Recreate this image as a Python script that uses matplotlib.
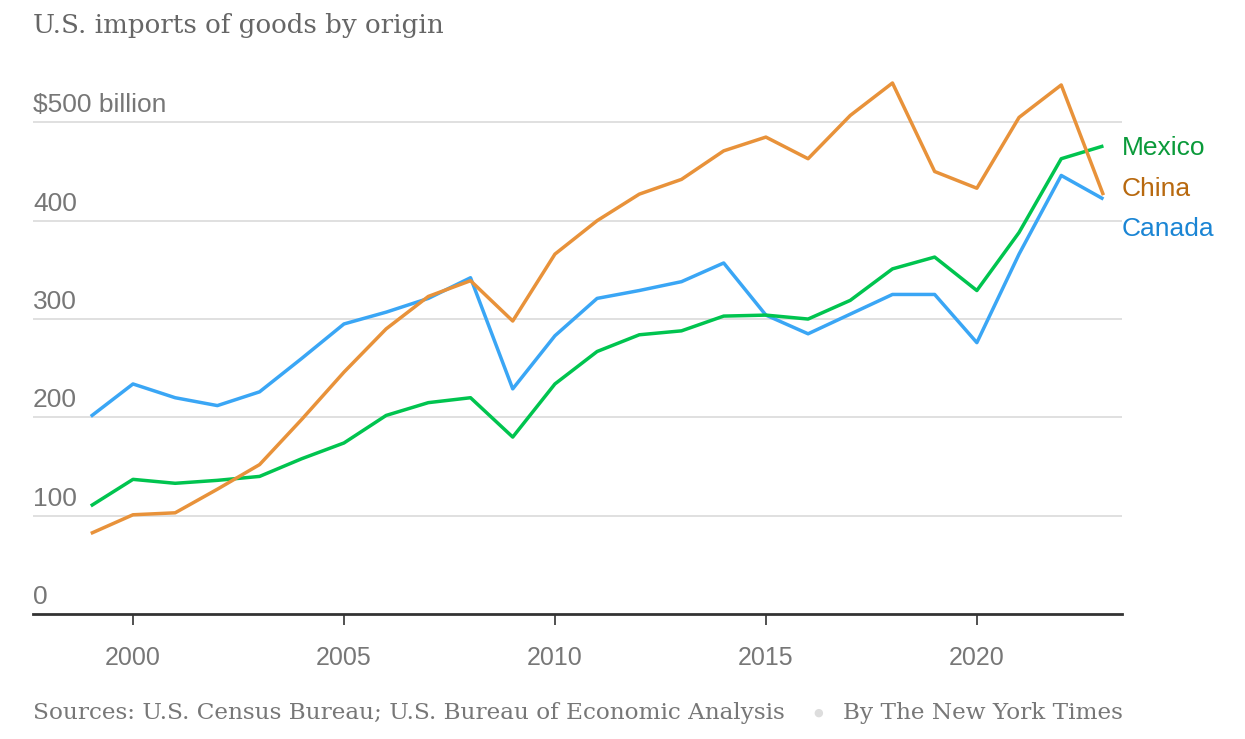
import matplotlib.pyplot as plt

# ==========================================
# DATA (billions of dollars)
# ==========================================

years = list(range(1999, 2024))

mexico = [110, 137, 133, 136, 140, 158, 174, 202, 215, 220, 180, 234, 267,
          284, 288, 303, 304, 300, 319, 351, 363, 329, 388, 463, 476]

china = [82, 101, 103, 127, 152, 198, 246, 290, 323, 339, 298, 366, 400,
         427, 442, 471, 485, 463, 507, 540, 450, 433, 505, 538, 426]

canada = [201, 234, 220, 212, 226, 260, 295, 307, 321, 342, 229, 283, 321,
          329, 338, 357, 304, 285, 305, 325, 325, 276, 366, 446, 422]

y_ticks = [0, 100, 200, 300, 400, 500]
y_tick_labels = ["0", "100", "200", "300", "400", "$500 billion"]
x_ticks = [2000, 2005, 2010, 2015, 2020]

# ==========================================
# FIGURE
# ==========================================

fig = plt.figure(figsize=(12.45, 7.39), dpi=100)
ax = fig.add_axes([0.0265, 0.169, 0.8747, 0.736])

ax.plot(years, canada, color="#3aa6f5", linewidth=2.5, solid_capstyle="butt")
ax.plot(years, mexico, color="#00c44f", linewidth=2.5, solid_capstyle="butt")
ax.plot(years, china, color="#e8923a", linewidth=2.5, solid_capstyle="butt")

ax.set_xlim(1997.63, 2023.44)
ax.set_ylim(0, 553)

# gridlines
for v in y_ticks[1:]:
    ax.axhline(v, color="#dddddd", linewidth=1.3, zorder=0)

# y labels sit above their gridlines
for v, lab in zip(y_ticks, y_tick_labels):
    ax.text(1997.63, v + 5, lab, fontsize=19, color="#777777",
            ha="left", va="bottom", family="Liberation Sans")

for s in ["top", "right", "left"]:
    ax.spines[s].set_visible(False)
ax.spines["bottom"].set_color("#333333")
ax.spines["bottom"].set_linewidth(2)

ax.set_yticks([])
ax.set_xticks(x_ticks)
ax.set_xticklabels([str(x) for x in x_ticks])
ax.tick_params(axis="x", direction="out", length=8, width=1.2,
               color="#333333", labelcolor="#777777", labelsize=18, pad=15)
for t in ax.get_xticklabels():
    t.set_family("Liberation Sans")

# line labels
ax.text(2023.44, 474, "Mexico", fontsize=19, color="#0a9a3a",
        ha="left", va="center", family="Liberation Sans")
ax.text(2023.44, 432, "China", fontsize=19, color="#b8690f",
        ha="left", va="center", family="Liberation Sans")
ax.text(2023.44, 392, "Canada", fontsize=19, color="#1a85d4",
        ha="left", va="center", family="Liberation Sans")

# title and footer
fig.text(33 / 1245, 1 - 25 / 739, "U.S. imports of goods by origin",
         fontsize=18.8, color="#666666", family="DejaVu Serif",
         ha="left", va="center")
fig.text(33 / 1245, 1 - 713 / 739,
         "Sources: U.S. Census Bureau; U.S. Bureau of Economic Analysis",
         fontsize=16.7, color="#777777", family="DejaVu Serif",
         ha="left", va="center")
fig.text(818 / 1245, 1 - 713 / 739, "\u25cf", fontsize=8, color="#dddddd",
         ha="center", va="center")
fig.text(843 / 1245, 1 - 713 / 739, "By The New York Times",
         fontsize=16.7, color="#777777", family="DejaVu Serif",
         ha="left", va="center")

plt.savefig("out.png", dpi=100)
